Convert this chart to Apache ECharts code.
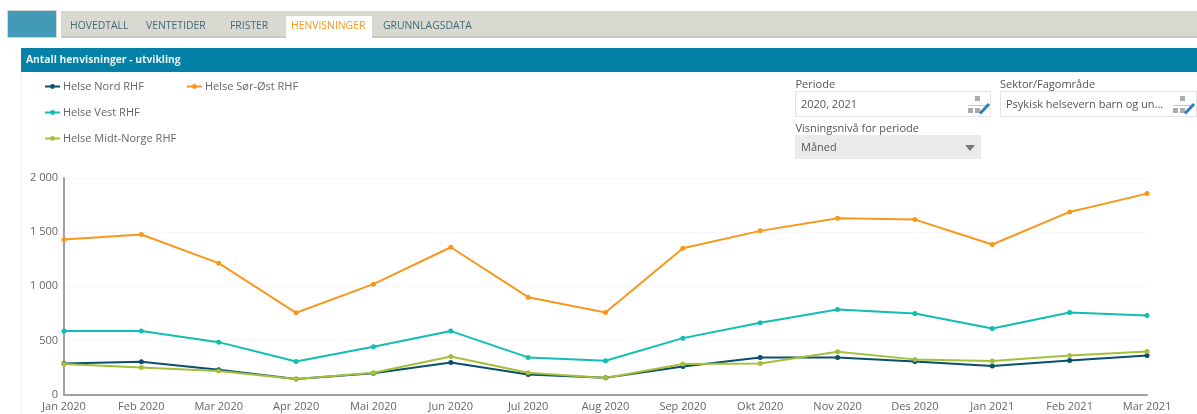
<!DOCTYPE html>
<html>
<head>
<meta charset="utf-8">
<style>html,body{margin:0;padding:0;background:#fff}#c{width:1197px;height:414px}</style>
<script src="https://cdn.jsdelivr.net/npm/echarts@6/dist/echarts.min.js"></script>
</head>
<body>
<div id="c"></div>
<script>
const categories = ['Jan 2020','Feb 2020','Mar 2020','Apr 2020','Mai 2020','Jun 2020','Jul 2020','Aug 2020','Sep 2020','Okt 2020','Nov 2020','Des 2020','Jan 2021','Feb 2021','Mar 2021'];
const helseNord = [289,304,230,144,197,298,187,157,261,344,344,307,264,316,362];
const helseSorOst = [1432,1478,1214,756,1020,1361,900,759,1352,1512,1628,1616,1386,1687,1856];
const helseVest = [587,587,485,307,442,587,344,313,522,664,787,750,611,759,731];
const helseMidt = [283,252,218,144,203,353,203,154,283,289,396,326,310,362,399];
const names = ['Helse Nord RHF','Helse Sør-Øst RHF','Helse Vest RHF','Helse Midt-Norge RHF'];
const colors = ['#0B4F6C','#F7981D','#12BDB2','#A4C03A'];
const tabs = [['HOVEDTALL',70,'#3F6B7A'],['VENTETIDER',146,'#3F6B7A'],['FRISTER',230,'#3F6B7A'],['HENVISNINGER',291,'#F7981D'],['GRUNNLAGSDATA',383,'#3F6B7A']];
const font = '"Open Sans", sans-serif';

function rect(x,y,w,h,fill,stroke){return {type:'rect',silent:true,shape:{x,y,width:w,height:h},style:{fill:fill,stroke:stroke||null,lineWidth:stroke?1:0}};}
function txt(x,y,t,size,fill,weight){return {type:'text',silent:true,x,y,style:{text:t,font:(weight||'normal')+' '+size+'px '+font,fill,textVerticalAlign:'middle'}};}
function picker(x){
  return [
    rect(x+7,96,5,5,'#ABABAB'),
    rect(x,105,17,1,'#C4C4C4'),
    rect(x,108,5,5,'#ABABAB'),
    rect(x+7,108,5,5,'#ABABAB'),
    {type:'line',silent:true,shape:{x1:x+12,y1:113.5,x2:x+21,y2:104},style:{stroke:'#2A7FC0',lineWidth:3}}
  ];
}
const chrome = [
  rect(7.5,10.5,49,27,'#4299B8','#D9D9D4'),
  rect(61,11,1136,27,'#D9D9D2'),
  rect(61,36,1136,2,'#C9C9C4'),
  rect(286,16,86,22,'#fff'),
  rect(21,48,1176,24,'#0580A6'),
  rect(21,72,1,342,'#F1F1F1'),
  txt(26,60.5,'Antall henvisninger - utvikling',10.3,'#E9F4F8','bold'),
  ...tabs.map(t=>txt(t[1],26.5,t[0],10.4,t[2])),
  txt(795.5,84.5,'Periode',11,'#555'),
  rect(795.5,91.5,195,25,'#fff','#E4E4E4'),
  txt(801,104.5,'2020, 2021',11,'#555'),
  txt(1000,84.5,'Sektor/Fagområde',11,'#555'),
  rect(1000.5,91.5,196,25,'#fff','#E4E4E4'),
  txt(1006,104.5,'Psykisk helsevern barn og un...',11,'#555'),
  txt(795.5,128.5,'Visningsnivå for periode',11,'#555'),
  rect(795,135,186,24,'#EBEBEB'),
  txt(801,148,'Måned',11,'#555'),
  {type:'polygon',silent:true,shape:{points:[[965,145],[975,145],[970,151]]},style:{fill:'#777'}},
  ...picker(968),
  ...picker(1173)
];

const chart = echarts.init(document.getElementById('c'),null,{renderer:'canvas'});
const legendBase = {orient:'horizontal',itemWidth:15,itemHeight:6,itemGap:42,padding:0,
  textStyle:{color:'#666',fontSize:11,fontFamily:font,padding:[0,0,0,-2]}};
chart.setOption({
  animation:false,
  textStyle:{fontFamily:font},
  color:colors,
  graphic:{elements:chrome},
  legend:[
    Object.assign({},legendBase,{left:44,top:81,data:[names[0],names[1]]}),
    Object.assign({},legendBase,{left:44,top:107,data:[names[2]]}),
    Object.assign({},legendBase,{left:44,top:133,data:[names[3]]})
  ],
  grid:{left:64,right:50,top:178,bottom:19.3,containLabel:false},
  xAxis:{type:'category',data:categories,boundaryGap:false,
    axisLine:{lineStyle:{color:'#A0A0A0',width:2}},axisTick:{show:false},
    axisLabel:{color:'#666',fontSize:11,margin:7,interval:0,showMaxLabel:true,showMinLabel:true},splitLine:{show:false}},
  yAxis:{type:'value',min:0,max:2000,interval:500,
    axisLine:{show:true,lineStyle:{color:'#A0A0A0',width:2}},axisTick:{show:false},
    axisLabel:{color:'#666',fontSize:11,margin:6,formatter:v=>v>=1000?String(v).replace(/(\d)(\d{3})$/,'$1 $2'):String(v)},
    splitLine:{lineStyle:{color:'#EEEEEE',type:'dotted'}}},
  series:[helseNord,helseSorOst,helseVest,helseMidt].map((d,i)=>({
    name:names[i],type:'line',data:d,symbol:'circle',symbolSize:5,showSymbol:true,
    lineStyle:{width:2,color:colors[i]},itemStyle:{color:colors[i]},z:i===3?5:3
  }))
});
</script>
</body>
</html>
